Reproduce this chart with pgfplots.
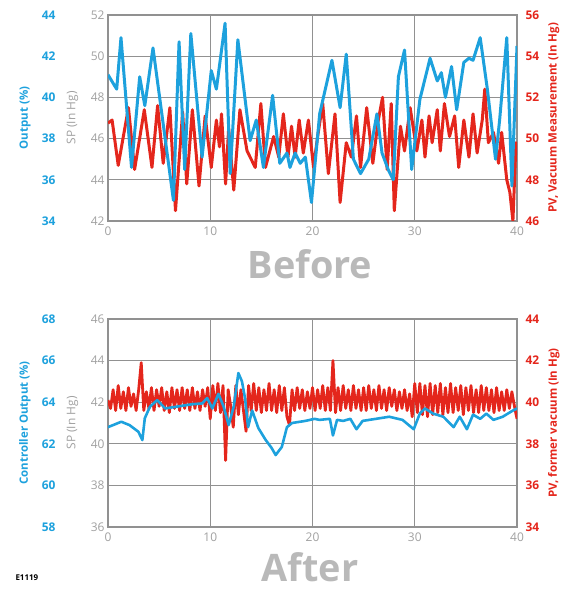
\documentclass[border=0pt]{standalone}
\usepackage{fontspec}
\setmainfont{Open Sans}
\usepackage{pgfplots}
\pgfplotsset{compat=1.18}

\definecolor{ccyan}{RGB}{29,161,221}
\definecolor{cred}{RGB}{228,38,28}
\definecolor{cgrid}{RGB}{145,145,145}
\definecolor{ctext}{RGB}{160,160,160}
\definecolor{cbig}{RGB}{185,185,185}

\pgfplotsset{
  panel/.style={
    scale only axis, width=409bp, height=206bp, anchor=south west,
    xmin=0, xmax=40,
    major tick length=0pt,
    /pgf/number format/assume math mode=true,
    tick label style={font=\fontsize{12}{14}\selectfont},
  },
  base/.style={panel,
    axis line style={draw=cgrid, line width=1.4bp},
    grid=major, major grid style={cgrid, line width=1.3bp},
    xtick={0,10,...,40},
    xticklabel style={text=ctext, yshift=-2bp},
    yticklabel style={text=ctext},
    every axis y label/.style={at={(axis description cs:-0.087,0.5)}, rotate=90, anchor=center, text=ctext, font=\fontsize{12}{14}\selectfont},
  },
  leftax/.style={panel, hide x axis, axis y line*=left,
    y axis line style={draw=none},
    yticklabel style={text=ccyan, font=\fontsize{12}{14}\selectfont\bfseries, xshift=-49bp},
    every axis y label/.style={at={(axis description cs:-0.203,0.5)}, rotate=90, anchor=center, text=ccyan, font=\fontsize{11.5}{13}\selectfont\bfseries},
  },
  rightax/.style={panel, hide x axis, axis y line*=right,
    y axis line style={draw=none},
    yticklabel style={text=cred, font=\fontsize{12}{14}\selectfont\bfseries, xshift=5bp},
    every axis y label/.style={at={(axis description cs:1.09,0.5)}, rotate=90, anchor=center, text=cred, font=\fontsize{11.5}{13}\selectfont\bfseries},
  },
}

\pgfplotstableread{
t out
0 41.1
0.85 40.4
1.27 42.9
2.3 36.6
3.1 41.0
3.6 39.6
4.4 42.4
6.4 35.0
6.95 42.7
7.5 36.5
8.1 43.1
9.2 37.1
10.1 41.3
10.6 40.4
11.45 43.6
11.95 36.3
12.7 42.8
13.9 37.9
14.5 38.9
15.2 36.6
16.1 40.1
16.8 36.8
17.5 37.3
17.8 36.6
18.3 37.3
18.8 36.8
19.3 37.1
19.9 34.9
20.7 39.2
21.9 41.8
22.7 39.5
23.3 42.1
24.0 37.0
24.7 36.3
25.5 37.0
26.3 39.2
26.8 37.3
27.4 36.5
27.9 36.0
28.4 41.0
29.0 42.3
29.7 36.5
30.5 39.9
31.5 41.9
32.2 40.8
32.6 41.2
33.0 40.0
33.6 41.5
34.1 39.4
34.8 41.7
35.3 41.9
35.7 41.8
36.4 42.9
37.1 40.4
37.9 37.0
38.3 38.9
39.0 42.9
39.5 35.7
40.0 42.5
}\topout

\pgfplotstableread{
t pv
0.0 50.75
0.4 50.9
1.0 48.7
2.0 51.5
2.6 48.5
3.55 51.4
4.3 48.6
4.85 51.6
5.4 48.8
6.05 51.5
6.6 46.5
7.3 51.3
7.7 47.8
8.25 51.4
8.9 47.7
9.5 51.1
10.1 48.6
10.6 50.9
10.9 49.6
11.1 51.2
11.5 47.8
11.8 50.5
12.3 47.5
12.9 51.4
13.6 49.4
14.4 48.6
14.95 51.7
15.4 48.6
16.2 50.1
16.7 49.1
17.15 51.2
17.6 49.1
17.95 50.6
18.3 49.1
18.7 50.9
19.1 49.3
19.6 50.9
20.1 48.6
20.5 50.1
21.0 51.7
21.55 48.3
22.2 51.2
22.7 46.9
23.3 49.8
23.8 49.1
24.3 51.1
24.7 48.6
25.3 51.5
25.9 48.8
26.4 50.8
26.85 52.0
27.3 48.5
27.7 51.7
28.0 46.5
28.6 50.6
29.0 49.4
29.55 51.5
30.2 49.4
30.7 50.9
31.0 49.1
31.4 51.1
31.7 49.8
32.2 51.4
32.5 49.4
32.9 51.7
33.4 50.1
33.9 51.1
34.3 48.6
34.8 50.9
35.3 49.1
35.7 51.2
36.1 49.3
36.6 50.9
36.85 52.4
37.2 49.8
37.7 50.3
38.2 48.8
38.5 50.3
39.0 48.0
39.3 47.4
39.6 46.0
39.9 49.8
40.0 49.5
}\toppv

\pgfplotstableread{
t out
0 62.8
0.5 62.9
1.3 63.06
2.1 62.9
2.97 62.58
3.36 62.18
3.6 63.23
4.1 63.78
4.8 64.1
5.6 63.7
6.9 63.8
8.2 63.9
9.2 63.94
9.7 64.2
10.2 63.7
10.8 64.4
11.3 63.8
11.8 62.9
12.3 63.8
12.75 65.4
13.1 65.0
13.4 64.2
13.7 62.8
14.1 63.6
14.7 62.76
15.4 62.2
16.0 61.8
16.4 61.46
17.0 61.85
17.5 62.8
18.0 63.0
19.3 63.1
20.2 63.2
20.7 63.15
21.7 63.2
22.0 62.4
22.4 63.15
23.0 63.1
23.7 63.2
24.3 62.7
24.9 63.1
26.2 63.2
27.5 63.3
28.8 63.15
29.9 62.7
30.5 63.46
31.0 63.7
31.8 63.45
32.8 63.3
33.8 62.8
34.4 63.3
35.1 62.7
35.7 63.4
36.4 63.2
37.0 63.45
37.7 63.15
38.6 63.3
39.6 63.6
40.0 63.7
}\botout

\pgfplotstableread{
t pv
0.00 40.1
0.25 39.7
0.50 40.6
0.75 39.6
1.00 40.8
1.25 39.7
1.50 40.5
1.75 39.6
2.00 40.7
2.25 39.8
2.50 40.4
2.75 39.6
3.00 40.6
3.25 41.9
3.50 39.6
3.75 40.5
4.00 39.7
4.25 40.7
4.50 39.6
4.75 40.6
5.00 39.8
5.25 40.7
5.50 39.6
5.75 40.5
6.00 39.5
6.25 40.7
6.50 39.7
6.75 40.6
7.00 39.6
7.25 40.7
7.50 39.7
7.75 40.6
8.00 39.6
8.25 40.7
8.50 39.7
8.75 40.5
9.00 39.6
9.25 40.6
9.50 39.8
9.75 40.7
10.00 39.2
10.25 40.8
10.50 39.6
10.75 40.9
11.00 39.5
11.25 40.8
11.50 37.2
11.75 40.6
12.00 39.8
12.25 38.8
12.50 40.8
12.75 39.4
13.00 40.6
13.25 39.6
13.50 38.6
13.75 40.8
14.00 39.6
14.25 40.9
14.50 39.6
14.75 40.7
15.00 39.5
15.25 40.6
15.50 39.6
15.75 40.9
16.00 39.6
16.25 40.6
16.50 39.5
16.75 40.8
17.00 39.6
17.25 40.7
17.50 39.3
17.75 38.9
18.00 40.6
18.25 39.6
18.50 40.7
18.75 39.7
19.00 40.6
19.25 39.6
19.50 40.5
19.75 39.7
20.00 40.7
20.25 39.6
20.50 40.6
20.75 39.7
21.00 40.8
21.25 39.6
21.50 40.7
21.75 39.6
22.00 42.0
22.25 39.5
22.50 40.7
22.75 39.6
23.00 40.8
23.25 39.7
23.50 40.6
23.75 39.6
24.00 40.8
24.25 39.7
24.50 40.6
24.75 39.6
25.00 40.7
25.25 39.6
25.50 40.8
25.75 39.7
26.00 40.6
26.25 39.6
26.50 40.8
26.75 39.7
27.00 40.6
27.25 39.6
27.50 40.7
27.75 39.8
28.00 40.6
28.25 39.6
28.50 40.5
28.75 39.7
29.00 40.6
29.25 39.6
29.50 40.4
29.75 39.3
30.00 40.9
30.25 39.5
30.50 40.9
30.75 39.4
31.00 40.8
31.25 39.3
31.50 40.9
31.75 39.4
32.00 40.8
32.25 39.5
32.50 40.9
32.75 39.4
33.00 40.7
33.25 39.5
33.50 40.9
33.75 39.5
34.00 40.7
34.25 39.6
34.50 40.8
34.75 39.4
35.00 40.7
35.25 39.6
35.50 40.8
35.75 39.5
36.00 40.6
36.25 39.5
36.50 40.8
36.75 39.6
37.00 40.7
37.25 39.6
37.50 40.6
37.75 39.5
38.00 40.7
38.25 39.6
38.50 40.5
38.75 39.6
39.00 40.6
39.25 39.7
39.50 40.5
39.75 39.8
40.00 39.2
}\botpv

\begin{document}
\begin{tikzpicture}[x=1bp,y=1bp]
\path[use as bounding box] (0,0) rectangle (568,590);

% ---- Before ----
\begin{axis}[base, at={(108bp,369bp)}, ymin=42, ymax=52, ytick={42,44,...,52},
  ylabel={SP (In Hg)}]
\end{axis}
\begin{axis}[rightax, at={(108bp,369bp)}, ymin=46, ymax=56, ytick={46,48,...,56},
  ylabel={PV, Vacuum Measurement (In Hg)}]
  \addplot[cred, line width=3bp, line join=round] table[x=t, y=pv] {\toppv};
\end{axis}
\begin{axis}[leftax, at={(108bp,369bp)}, ymin=34, ymax=44, ytick={34,36,...,44},
  ylabel={Output (\%)}]
  \addplot[ccyan, line width=3bp, line join=round] table[x=t, y=out] {\topout};
\end{axis}
\node[text=cbig, font=\fontsize{38}{40}\selectfont\bfseries] at (310,326) {Before};

% ---- After ----
\begin{axis}[base, at={(108bp,63bp)}, height=208bp, ymin=36, ymax=46, ytick={36,38,...,46},
  ylabel={SP (In Hg)}]
\end{axis}
\begin{axis}[rightax, at={(108bp,63bp)}, height=208bp, ymin=34, ymax=44, ytick={34,36,...,44},
  ylabel={PV, former vacuum (In Hg)}]
  \addplot[cred, line width=2.8bp, line join=round] table[x=t, y=pv] {\botpv};
\end{axis}
\begin{axis}[leftax, at={(108bp,63bp)}, height=208bp, ymin=58, ymax=68, ytick={58,60,...,68},
  ylabel={Controller Output (\%)}]
  \addplot[ccyan, line width=2.6bp, line join=round] table[x=t, y=out] {\botout};
\end{axis}
\node[text=cbig, font=\fontsize{38}{40}\selectfont\bfseries] at (310,23) {After};
\node[font=\fontsize{8}{9}\selectfont\bfseries, anchor=west] at (12,12) {E1119};
\end{tikzpicture}
\end{document}
